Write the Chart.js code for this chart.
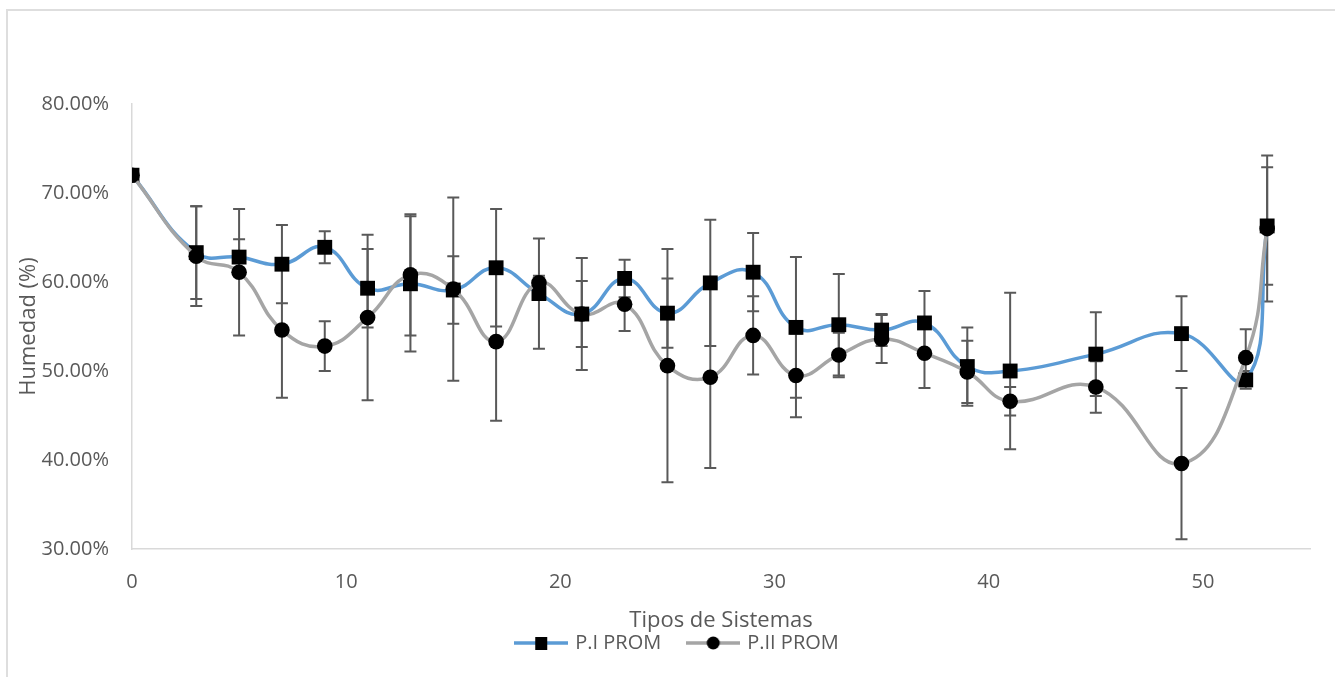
<!DOCTYPE html>
<html>
<head>
<meta charset="utf-8">
<script src="https://cdn.jsdelivr.net/npm/chart.js@4"></script>
<style>
  body { margin: 0; background: #fff; overflow: hidden; }
  #frame { position: absolute; left: 6px; top: 9px; width: 1400px; height: 700px;
           border-left: 2px solid #dedede; border-top: 2px solid #dedede; }
  #humChart { position: absolute; left: 0; top: 0; }
</style>
</head>
<body>
<div id="frame"></div>
<canvas id="humChart" width="1335" height="677"></canvas>
<script>
// x position of each measurement
const sistemas = [0, 3, 5, 7, 9, 11, 13, 15, 17, 19, 21, 23, 25, 27, 29, 31, 33, 35, 37, 39, 41, 45, 49, 52, 53];

// humidity averages (%)
const piProm  = [72.0, 63.3, 62.8, 62.0, 63.9, 59.3, 59.8, 59.1, 61.6, 58.7, 56.4, 60.4, 56.5, 59.9, 61.1, 54.9, 55.2, 54.6, 55.4, 50.5, 50.0, 51.9, 54.2, 49.0, 66.3];
const piiProm = [72.0, 62.9, 61.1, 54.6, 52.8, 56.0, 60.8, 59.2, 53.3, 59.9, 56.4, 57.5, 50.6, 49.3, 54.0, 49.5, 51.8, 53.6, 52.0, 49.9, 46.6, 48.2, 39.6, 51.5, 66.0];

// error bars (+/-, %)
const piErr  = [0, 5.2, 2.0, 4.4, 1.8, 4.4, 7.6, 3.8, 6.6, 6.2, 3.7, 2.1, 3.9, 7.1, 4.4, 7.9, 5.7, 1.8, 3.6, 4.4, 8.8, 4.7, 4.2, 1.0, 6.6];
const piiErr = [0, 5.6, 7.1, 7.6, 2.8, 9.3, 6.8, 10.3, 8.9, 0.8, 6.3, 3.0, 13.1, 10.2, 4.4, 4.7, 2.5, 2.7, 3.9, 3.5, 1.6, 2.9, 8.5, 3.2, 8.2];

const yTicks = [30, 40, 50, 60, 70, 80];
const xTicks = [0, 10, 20, 30, 40, 50];

const BLUE = '#5b9bd5';
const GREY = '#a5a5a5';
const TXT = '#595959';
const AXIS = '#d9d9d9';

Chart.defaults.font.family = "'Open Sans', 'DejaVu Sans', sans-serif";
Chart.defaults.color = TXT;

const toPts = (vals) => sistemas.map((x, i) => ({ x: x, y: vals[i] }));

// legend swatch: line with the marker in the middle
function swatch(color, shape) {
  const c = document.createElement('canvas');
  c.width = 54; c.height = 16;
  const g = c.getContext('2d');
  g.strokeStyle = color;
  g.lineWidth = 3.5;
  g.beginPath(); g.moveTo(0, 8); g.lineTo(54, 8); g.stroke();
  g.fillStyle = '#000';
  if (shape === 'rect') {
    g.fillRect(21, 2, 12, 13);
  } else {
    g.beginPath(); g.arc(27, 8, 6.5, 0, Math.PI * 2); g.fill();
  }
  return c;
}

// error bars drawn through the scales
const errorBars = {
  id: 'errorBars',
  beforeDatasetsDraw(chart) {
    const { ctx, scales: { x, y } } = chart;
    const sets = [[piProm, piErr], [piiProm, piiErr]];
    ctx.save();
    ctx.strokeStyle = '#595959';
    ctx.lineWidth = 2;
    sets.forEach(([vals, errs]) => {
      sistemas.forEach((sx, i) => {
        if (!errs[i]) return;
        const px = x.getPixelForValue(sx);
        const top = y.getPixelForValue(vals[i] + errs[i]);
        const bot = y.getPixelForValue(vals[i] - errs[i]);
        ctx.beginPath();
        ctx.moveTo(px, top); ctx.lineTo(px, bot);
        ctx.moveTo(px - 6, top); ctx.lineTo(px + 6, top);
        ctx.moveTo(px - 6, bot); ctx.lineTo(px + 6, bot);
        ctx.stroke();
      });
    });
    ctx.restore();
  }
};

// nudge legend a little to the right, like the original
const legendShift = {
  id: 'legendShift',
  afterLayout(chart) {
    chart.legend.left += 7;
    chart.legend.right += 7;
  }
};

const ctx = document.getElementById('humChart').getContext('2d');

const humChart = new Chart(ctx, {
  type: 'line',
  data: {
    datasets: [{
      label: 'P.I PROM',
      data: toPts(piProm),
      borderColor: BLUE,
      borderWidth: 3.5,
      tension: 0.45,
      pointStyle: 'rect',
      pointRadius: 10.5,
      pointBackgroundColor: '#000',
      pointBorderColor: '#000',
      pointBorderWidth: 0,
      order: 1
    }, {
      label: 'P.II PROM',
      data: toPts(piiProm),
      borderColor: GREY,
      borderWidth: 3.5,
      tension: 0.45,
      pointStyle: 'circle',
      pointRadius: 7.8,
      pointBackgroundColor: '#000',
      pointBorderColor: '#000',
      pointBorderWidth: 0,
      order: 0
    }]
  },
  options: {
    responsive: false,
    animation: false,
    devicePixelRatio: 1,
    layout: { padding: { left: 32, right: 25, top: 104, bottom: 14 } },
    scales: {
      x: {
        type: 'linear',
        min: 0,
        max: 55,
        afterFit: (s) => { s.height = 56; },
        afterBuildTicks: (s) => { s.ticks = xTicks.map(v => ({ value: v })); },
        ticks: { font: { size: 20 }, padding: 21, color: TXT },
        grid: { display: false, drawTicks: false },
        border: { display: true, color: AXIS, width: 1.5 },
        title: { display: true, text: 'Tipos de Sistemas', color: TXT,
                 font: { size: 22 }, padding: { top: 0, bottom: -29 } }
      },
      y: {
        min: 30,
        max: 80,
        afterFit: (s) => { s.width = 100; },
        afterBuildTicks: (s) => { s.ticks = yTicks.map(v => ({ value: v })); },
        ticks: { font: { size: 20 }, padding: 23, color: TXT,
                 callback: (v) => v.toFixed(2) + '%' },
        grid: { display: false, drawTicks: false },
        border: { display: true, color: AXIS, width: 1.5 },
        title: { display: true, text: 'Humedad (%)', color: TXT,
                 font: { size: 22 }, padding: { top: -16, bottom: 0 } }
      }
    },
    plugins: {
      legend: {
        position: 'bottom',
        labels: {
          usePointStyle: true,
          pointStyleWidth: 48,
          padding: 28,
          color: TXT,
          font: { size: 20 },
          generateLabels: () => [
            { text: 'P.I PROM', pointStyle: swatch(BLUE, 'rect'), datasetIndex: 0, hidden: false, lineWidth: 0, fontColor: TXT },
            { text: 'P.II PROM', pointStyle: swatch(GREY, 'circle'), datasetIndex: 1, hidden: false, lineWidth: 0, fontColor: TXT }
          ]
        }
      },
      tooltip: { enabled: false }
    }
  },
  plugins: [errorBars, legendShift]
});
</script>
</body>
</html>
